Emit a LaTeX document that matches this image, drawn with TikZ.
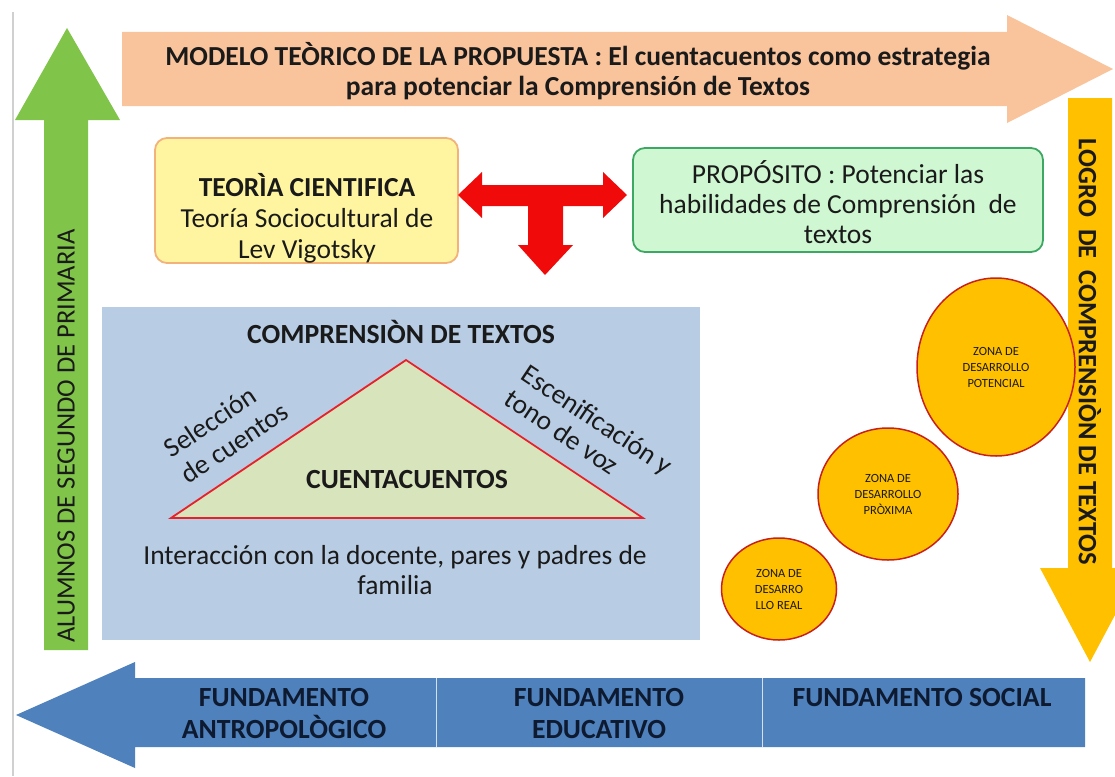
\documentclass[tikz,border=0pt]{standalone}
\usepackage{fontspec}
\setmainfont{Carlito}
\usetikzlibrary{shapes.geometric}
\definecolor{orangeA}{HTML}{F9C39C}
\definecolor{greenA}{HTML}{80C44A}
\definecolor{yellowA}{HTML}{FFC000}
\definecolor{blueBar}{HTML}{4F81BD}
\definecolor{blueBox}{HTML}{B8CCE4}
\definecolor{triFill}{HTML}{D8E4BC}
\definecolor{triLine}{HTML}{E8202A}
\definecolor{zoneLine}{HTML}{C8201E}
\definecolor{teoFill}{HTML}{FFF5A0}
\definecolor{teoLine}{HTML}{F2B27A}
\definecolor{propFill}{HTML}{CFF7D2}
\definecolor{propLine}{HTML}{3DA864}
\definecolor{tRed}{HTML}{F00A0A}
\definecolor{darkTxt}{HTML}{1A1A1A}
\definecolor{navyTxt}{HTML}{0E1A30}
\definecolor{greyLine}{HTML}{D0D0D0}
\tikzset{
  titletxt/.style={align=center, text=darkTxt, font=\fontsize{27.5}{30}\selectfont\bfseries},
  sidetxt/.style={text=darkTxt, font=\fontsize{26.5}{30}\selectfont},
  boxbase/.style={rounded corners=12pt, line width=1.8pt, inner sep=0pt},
  bodytxt/.style={align=center, text=darkTxt, font=\fontsize{27.5}{31}\selectfont},
  boldcap/.style={align=center, text=darkTxt, font=\fontsize{27.7}{31}\selectfont\bfseries},
  bartxt/.style={align=center, text=navyTxt, font=\fontsize{27.7}{32}\selectfont\bfseries},
  zone/.style={ellipse, fill=yellowA, draw=zoneLine, line width=1.5pt, inner sep=0pt,
     align=center, text=darkTxt, font=\fontsize{12.5}{16}\selectfont},
  divline/.style={draw=blueBox!60!white, line width=1pt}
}
\begin{document}
\begin{tikzpicture}[x=1pt,y=-1pt]
\useasboundingbox (0,0) rectangle (1115,776);
\fill[white] (0,0) rectangle (1115,776);
\draw[greyLine, line width=1.5pt] (13,12) -- (13,776);

% top orange arrow
\fill[orangeA] (122,32) -- (1007,32) -- (1007,15) -- (1113,69) -- (1007,123) -- (1007,106) -- (122,106) -- cycle;
\node[titletxt] (title) at (578,71) {MODELO TEÒRICO DE LA PROPUESTA : El cuentacuentos como estrategia\\para potenciar la Comprensión de Textos};

% left green arrow
\fill[greenA] (44,650) -- (44,120) -- (15,120) -- (67,28) -- (120,120) -- (88,120) -- (88,650) -- cycle;
\node[sidetxt, rotate=90] (alumnos) at (66,436) {ALUMNOS DE SEGUNDO DE PRIMARIA};

% right yellow arrow
\fill[yellowA] (1068,98) -- (1112,98) -- (1112,568) -- (1140,568) -- (1090,662) -- (1040,568) -- (1068,568) -- cycle;
\node[boldcap, font=\fontsize{26.5}{30}\selectfont\bfseries, rotate=-90] (logro) at (1090,352) {LOGRO\ \ DE\ \ COMPRENSIÒN DE TEXTOS};

% teoria box
\node[boxbase, fill=teoFill, draw=teoLine, minimum width=303pt, minimum height=125pt] (teoria) at (306.5,200.5) {};
\node[bodytxt] (teoriatxt) at (307,218) {{\bfseries TEORÌA CIENTIFICA}\\Teoría Sociocultural de\\Lev Vigotsky};

% proposito box
\node[boxbase, fill=propFill, draw=propLine, minimum width=410pt, minimum height=104pt] (prop) at (838,200) {};
\node[bodytxt, font=\fontsize{27.5}{30}\selectfont] (proptxt) at (838,202) {PROPÓSITO : Potenciar las\\habilidades de Comprensión\ \ de\\textos};

% red T arrow
\fill[tRed] (458,195) -- (482,172) -- (482,185) -- (603,185) -- (603,172) -- (627,195) -- (603,218) -- (603,206) -- (563,206) -- (563,245) -- (573,245) -- (545,275) -- (518,245) -- (528,245) -- (528,206) -- (482,206) -- (482,218) -- cycle;

% comprension box
\node[fill=blueBox, minimum width=598pt, minimum height=333pt, inner sep=0pt] (compbox) at (401,473.5) {};
\node[boldcap] (comptitle) at (401,332) {COMPRENSIÒN DE TEXTOS};
\filldraw[fill=triFill, draw=triLine, line width=1.8pt, line join=miter] (171,518) -- (406,360) -- (643,518) -- cycle;
\node[boldcap] (cuenta) at (407,480) {CUENTACUENTOS};
\node[bodytxt, align=left, font=\fontsize{27.5}{31}\selectfont, rotate=33.7] (selec) at (226,430) {Selección\\de cuentos};
\node[bodytxt, align=left, font=\fontsize{27.5}{30}\selectfont, rotate=-33.7] (escen) at (589,432) {Escenificación y\\tono de voz};
\node[bodytxt, font=\fontsize{27.5}{30}\selectfont] (inter) at (395,570) {Interacción con la docente, pares y padres de\\familia};

% zones
\node[zone, minimum width=158pt, minimum height=178pt] (zpot) at (996,367) {ZONA DE\\DESARROLLO\\POTENCIAL};
\node[zone, minimum width=140pt, minimum height=132pt] (zprox) at (888,494) {ZONA DE\\DESARROLLO\\PRÒXIMA};
\node[zone, minimum width=115pt, minimum height=102pt] (zreal) at (779,589) {ZONA DE\\DESARRO\\LLO REAL};

% bottom blue arrow
\fill[blueBar] (1085,678) -- (135,678) -- (135,662) -- (16,715) -- (135,768) -- (135,747) -- (1085,747) -- cycle;
\draw[divline] (436,678) -- (436,747);
\draw[divline] (762,678) -- (762,747);
\node[bartxt] (fant) at (284,714) {FUNDAMENTO\\ANTROPOLÒGICO};
\node[bartxt] (fedu) at (599,714) {FUNDAMENTO\\EDUCATIVO};
\node[bartxt] (fsoc) at (922,698) {FUNDAMENTO SOCIAL};
\end{tikzpicture}
\end{document}
